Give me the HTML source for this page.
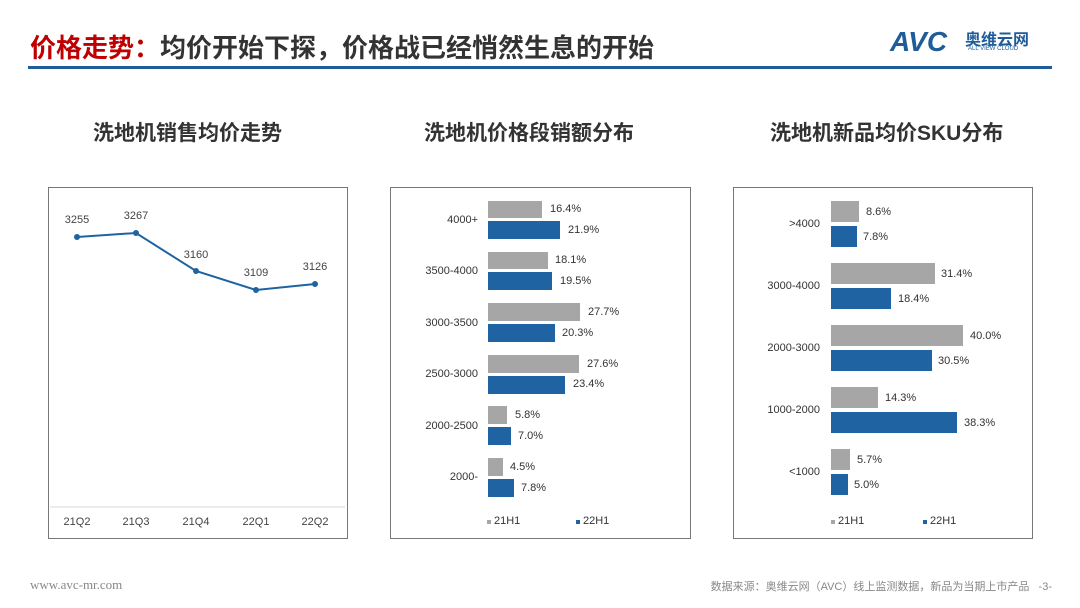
<!DOCTYPE html>
<html><head><meta charset="utf-8"><style>
*{margin:0;padding:0}
body{width:1080px;height:608px;background:#fff;position:relative;overflow:hidden;font-family:"Liberation Sans","Noto Sans CJK SC",sans-serif;}
.a{position:absolute;white-space:nowrap}
.box{position:absolute;border:1px solid #777;background:#fff}
.g{position:absolute;background:#a6a6a6}
.b{position:absolute;background:#1f63a3}
.t{position:absolute;font-size:11px;color:#333;white-space:nowrap}
.ct{position:absolute;font-size:21px;font-weight:bold;color:#333;white-space:nowrap}
.cat{position:absolute;font-size:11px;color:#333;text-align:right;width:90px}
</style></head><body>
<div class="a" style="left:30px;top:28px;font-size:26px;font-weight:bold;color:#333"><span style="color:#c00000">价格走势：</span>均价开始下探，价格战已经悄然生息的开始</div>
<div class="a" style="left:890px;top:26px;font-size:28px;font-weight:bold;color:#1f5c99;font-style:italic">AVC</div>
<div class="a" style="left:965px;top:26px;font-size:16px;font-weight:bold;color:#1f5c99">奥维云网</div>
<div class="a" style="left:968px;top:46px;font-size:6px;color:#1f5c99">ALL VIEW CLOUD</div>
<div class="a" style="left:28px;top:66px;width:1024px;height:3px;background:#1f5c99"></div>

<div class="ct" style="left:93px;top:117px">洗地机销售均价走势</div>
<div class="ct" style="left:424px;top:117px">洗地机价格段销额分布</div>
<div class="ct" style="left:770px;top:117px">洗地机新品均价SKU分布</div>

<div class="box" style="left:48px;top:187px;width:298px;height:350px"></div>
<div class="box" style="left:390px;top:187px;width:299px;height:350px"></div>
<div class="box" style="left:733px;top:187px;width:298px;height:350px"></div>

<svg class="a" style="left:0;top:0" width="1080" height="608">
<line x1="50" y1="507" x2="345" y2="507" stroke="#d9d9d9"/>
<polyline points="77,237 136,233 196,271 256,290 315,284" fill="none" stroke="#1f63a3" stroke-width="2"/>
<g fill="#1f63a3"><circle cx="77" cy="237" r="3"/><circle cx="136" cy="233" r="3"/><circle cx="196" cy="271" r="3"/><circle cx="256" cy="290" r="3"/><circle cx="315" cy="284" r="3"/></g>
<g font-size="11" fill="#444" text-anchor="middle" font-family="Liberation Sans">
<text x="77" y="223">3255</text><text x="136" y="219">3267</text><text x="196" y="258">3160</text><text x="256" y="276">3109</text><text x="315" y="270">3126</text>
<text x="77" y="525">21Q2</text><text x="136" y="525">21Q3</text><text x="196" y="525">21Q4</text><text x="256" y="525">22Q1</text><text x="315" y="525">22Q2</text>
</g>
</svg>

<div class="cat" style="left:388px;top:214px">4000+</div>
<div class="cat" style="left:388px;top:265px">3500-4000</div>
<div class="cat" style="left:388px;top:317px">3000-3500</div>
<div class="cat" style="left:388px;top:368px">2500-3000</div>
<div class="cat" style="left:388px;top:420px">2000-2500</div>
<div class="cat" style="left:388px;top:471px">2000-</div>

<div class="g" style="left:488px;top:201px;width:54px;height:17px"></div><div class="t" style="left:550px;top:203px">16.4%</div>
<div class="b" style="left:488px;top:221px;width:72px;height:18px"></div><div class="t" style="left:568px;top:224px">21.9%</div>
<div class="g" style="left:488px;top:252px;width:60px;height:17px"></div><div class="t" style="left:555px;top:254px">18.1%</div>
<div class="b" style="left:488px;top:272px;width:64px;height:18px"></div><div class="t" style="left:560px;top:275px">19.5%</div>
<div class="g" style="left:488px;top:303px;width:92px;height:18px"></div><div class="t" style="left:588px;top:306px">27.7%</div>
<div class="b" style="left:488px;top:324px;width:67px;height:18px"></div><div class="t" style="left:562px;top:327px">20.3%</div>
<div class="g" style="left:488px;top:355px;width:91px;height:18px"></div><div class="t" style="left:587px;top:358px">27.6%</div>
<div class="b" style="left:488px;top:376px;width:77px;height:18px"></div><div class="t" style="left:573px;top:378px">23.4%</div>
<div class="g" style="left:488px;top:406px;width:19px;height:18px"></div><div class="t" style="left:515px;top:409px">5.8%</div>
<div class="b" style="left:488px;top:427px;width:23px;height:18px"></div><div class="t" style="left:518px;top:430px">7.0%</div>
<div class="g" style="left:488px;top:458px;width:15px;height:18px"></div><div class="t" style="left:510px;top:461px">4.5%</div>
<div class="b" style="left:488px;top:479px;width:26px;height:18px"></div><div class="t" style="left:521px;top:482px">7.8%</div>
<div class="a" style="left:487px;top:520px;width:4px;height:4px;background:#a6a6a6"></div><div class="t" style="left:494px;top:515px">21H1</div>
<div class="a" style="left:576px;top:520px;width:4px;height:4px;background:#1f63a3"></div><div class="t" style="left:583px;top:515px">22H1</div>

<div class="cat" style="left:730px;top:218px">&gt;4000</div>
<div class="cat" style="left:730px;top:280px">3000-4000</div>
<div class="cat" style="left:730px;top:342px">2000-3000</div>
<div class="cat" style="left:730px;top:404px">1000-2000</div>
<div class="cat" style="left:730px;top:466px">&lt;1000</div>

<div class="g" style="left:831px;top:201px;width:28px;height:21px"></div><div class="t" style="left:866px;top:206px">8.6%</div>
<div class="b" style="left:831px;top:226px;width:26px;height:21px"></div><div class="t" style="left:863px;top:231px">7.8%</div>
<div class="g" style="left:831px;top:263px;width:104px;height:21px"></div><div class="t" style="left:941px;top:268px">31.4%</div>
<div class="b" style="left:831px;top:288px;width:60px;height:21px"></div><div class="t" style="left:898px;top:293px">18.4%</div>
<div class="g" style="left:831px;top:325px;width:132px;height:21px"></div><div class="t" style="left:970px;top:330px">40.0%</div>
<div class="b" style="left:831px;top:350px;width:101px;height:21px"></div><div class="t" style="left:938px;top:355px">30.5%</div>
<div class="g" style="left:831px;top:387px;width:47px;height:21px"></div><div class="t" style="left:885px;top:392px">14.3%</div>
<div class="b" style="left:831px;top:412px;width:126px;height:21px"></div><div class="t" style="left:964px;top:417px">38.3%</div>
<div class="g" style="left:831px;top:449px;width:19px;height:21px"></div><div class="t" style="left:857px;top:454px">5.7%</div>
<div class="b" style="left:831px;top:474px;width:17px;height:21px"></div><div class="t" style="left:854px;top:479px">5.0%</div>
<div class="a" style="left:831px;top:520px;width:4px;height:4px;background:#a6a6a6"></div><div class="t" style="left:838px;top:515px">21H1</div>
<div class="a" style="left:923px;top:520px;width:4px;height:4px;background:#1f63a3"></div><div class="t" style="left:930px;top:515px">22H1</div>

<div class="a" style="left:30px;top:577px;font-size:13px;color:#888;font-family:'Liberation Serif',serif">www.avc-mr.com</div>
<div class="a" style="right:28px;top:578px;font-size:11px;color:#888">数据来源：奥维云网（AVC）线上监测数据，新品为当期上市产品&nbsp;&nbsp;&nbsp;-3-</div>
</body></html>
